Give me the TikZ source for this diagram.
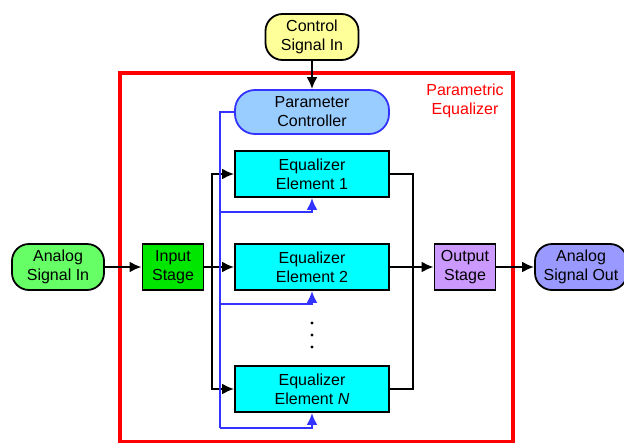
\documentclass[tikz,border=0pt]{standalone}
\usepackage{fontspec}
\setmainfont{Liberation Sans}
\usetikzlibrary{arrows.meta,calc}
\definecolor{eqYellow}{HTML}{FFFF99}
\definecolor{eqSky}{HTML}{99CCFF}
\definecolor{eqBlue}{HTML}{3333FF}
\definecolor{eqCyan}{HTML}{00FFFF}
\definecolor{eqGreen}{HTML}{00E600}
\definecolor{eqLime}{HTML}{66FF66}
\definecolor{eqLilac}{HTML}{CC99FF}
\definecolor{eqPeri}{HTML}{9999FF}
\definecolor{eqRed}{HTML}{FF0000}

\begin{document}
\begin{tikzpicture}[x=1pt,y=-1pt,font=\fontsize{16}{19}\selectfont]
    \tikzset{terminal/.style={draw=black,line width=1.8pt,rounded corners=17pt,minimum height=46pt,align=center,inner sep=2pt},
      stagebox/.style={draw=black,line width=1.8pt,minimum width=61pt,minimum height=46pt,align=center,inner sep=2pt},
      element/.style={draw=black,line width=1.8pt,fill=eqCyan,minimum width=154pt,minimum height=46pt,align=center},
      wire/.style={line width=2.3pt},
      sig/.style={wire,-{Latex[length=12pt,width=11pt]}},
      bus/.style={draw=eqBlue,line width=2.3pt}}
    \useasboundingbox (0,0) rectangle (624,442);
    % equalizer frame
    \draw[eqRed,line width=3.5pt] (120,73) rectangle (513,442);
    \node[eqRed,align=center] (title) at (465,101) {Parametric\\ Equalizer};
    % nodes
    \node[terminal,fill=eqYellow,minimum width=93pt] (ctl) at (312,37) {Control\\ Signal In};
    \node[terminal,draw=eqBlue,fill=eqSky,minimum width=154pt,minimum height=44pt,rounded corners=20pt] (pc) at (312,112) {Parameter\\ Controller};
    \node[element] (eq1) at (312,174) {Equalizer\\ Element 1};
    \node[element] (eq2) at (312,267) {Equalizer\\ Element 2};
    \node[element] (eqN) at (312,389) {Equalizer\\ Element \textit{N}};
    \foreach \y in {323,335,347}
      \fill (312,\y) circle (1.7pt);
    \node[terminal,fill=eqLime,minimum width=92pt] (ain) at (58,267) {Analog\\ Signal In};
    \node[stagebox,fill=eqGreen] (ins) at (173,267) {Input\\ Stage};
    \node[stagebox,fill=eqLilac] (outs) at (465,267) {Output\\ Stage};
    \node[terminal,fill=eqPeri,minimum width=92pt] (aout) at (581,267) {Analog\\ Signal Out};
    % signal path
    \coordinate (split) at (212,267);
    \coordinate (merge) at (413,267);
    \draw[sig] (ctl) -- (pc);
    \draw[sig] (ain) -- (ins);
    \draw[wire] (ins) -- (split);
    \draw[sig] (split) |- (eq1.west);
    \draw[sig] (split) -- (eq2.west);
    \draw[sig] (split) |- (eqN.west);
    \draw[wire] (eq1.east) -| (merge);
    \draw[wire] (eqN.east) -| (merge);
    \draw[wire] (eq2.east) -- (merge);
    \draw[sig] (merge) -- (outs);
    \draw[sig] (outs) -- (aout);
    % control bus
    \coordinate (b1) at (220,212);
    \coordinate (b2) at (220,304);
    \coordinate (bN) at (220,428);
    \draw[bus] (pc.west) -| (bN);
    \draw[sig,bus] (b1) -| (eq1.south);
    \draw[sig,bus] (b2) -| (eq2.south);
    \draw[sig,bus] (bN) -| (eqN.south);
  \end{tikzpicture}
\end{document}
